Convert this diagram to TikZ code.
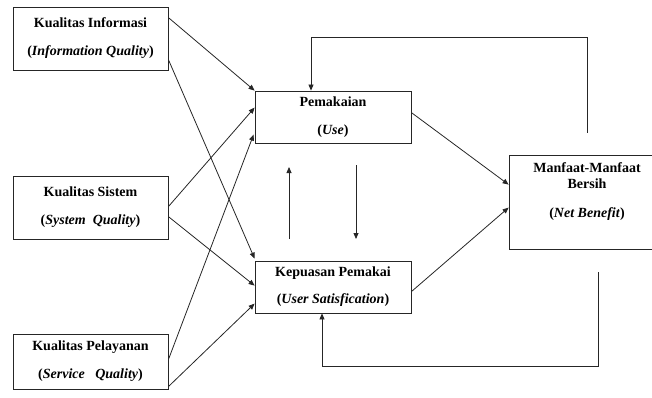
\documentclass[tikz,border=0pt]{standalone}
\usepackage{fontspec}
\setmainfont{Liberation Serif}
\usetikzlibrary{arrows.meta,calc}
\begin{document}
\begin{tikzpicture}[x=1pt,y=-1pt,
  box/.style={draw=black!85,line width=0.8pt,rectangle,inner sep=0pt,align=center,
    font=\fontsize{14}{16}\selectfont\bfseries},
  txt/.style={inner sep=0pt,align=center,font=\fontsize{14}{16}\selectfont\bfseries},
  arr/.style={draw=black!85,line width=0.8pt,-{Triangle[length=6pt,width=5pt]}},
  ln/.style={draw=black!85,line width=0.8pt}]
\useasboundingbox (0,0) rectangle (652,398);
\node[box,minimum width=155pt,minimum height=63pt] (iq) at (90.5,38.5)
  {Kualitas Informasi\\[12pt](\textit{Information Quality})};
\node[box,minimum width=155pt,minimum height=63pt] (sq) at (90.5,207.5)
  {Kualitas Sistem\\[12pt](\textit{System\ \ Quality})};
\node[box,minimum width=155pt,minimum height=55pt] (svq) at (90.5,361.5)
  {Kualitas Pelayanan\\[12pt](\textit{Service\ \ \ Quality})};
\node[box,minimum width=156pt,minimum height=52pt] (use) at (333,117)
  {Pemakaian\\[12pt](\textit{Use})};
\node[box,minimum width=156pt,minimum height=52pt] (us) at (333,287)
  {Kepuasan Pemakai\\[11pt](\textit{User Satisfication})};
\node[box,minimum width=156pt,minimum height=94pt] (nb) at (587,202) {};
\node[txt] (nbt) at (587,192) {Manfaat-Manfaat\\Bersih\\[13pt](\textit{Net Benefit})};
% input arrows
\draw[arr] ($(iq.north east)+(0,11)$) -- (use.north west);
\draw[arr] ($(iq.north east)+(0,53)$) -- ($(us.north west)+(0,-2)$);
\draw[arr] ($(sq.north east)+(0,31)$) -- ($(use.north west)+(0,17)$);
\draw[arr] ($(sq.north east)+(0,41)$) -- ($(us.north west)+(0,25)$);
\draw[arr] ($(svq.north east)+(0,26)$) -- ($(use.north west)+(-1,44)$);
\draw[arr] ($(svq.north east)+(0,53)$) -- ($(us.north west)+(0,43)$);
% to net benefit
\draw[arr] ($(use.north east)+(0,22)$) -- ($(nb.north west)+(0,30)$);
\draw[arr] ($(us.north east)+(0,31)$) -- ($(nb.north west)+(0,53)$);
% vertical arrows between use and us
\coordinate (ua) at (289,239);
\coordinate (ub) at (289,167);
\coordinate (da) at (356,165);
\coordinate (db) at (356,239);
\draw[arr] (ua) -- (ub);
\draw[arr] (da) -- (db);
% feedback loops
\coordinate (t1) at ($(nb.north)+(0,-22)$);
\draw[arr] (t1) |- ($(use.north)+(-22,-53)$) -- ($(use.north)+(-22,0)$);
\coordinate (b1) at ($(nb.south)+(11,23)$);
\draw[arr] (b1) |- ($(us.south)+(-11,53)$) -- ($(us.south)+(-11,0)$);
\end{tikzpicture}
\end{document}
